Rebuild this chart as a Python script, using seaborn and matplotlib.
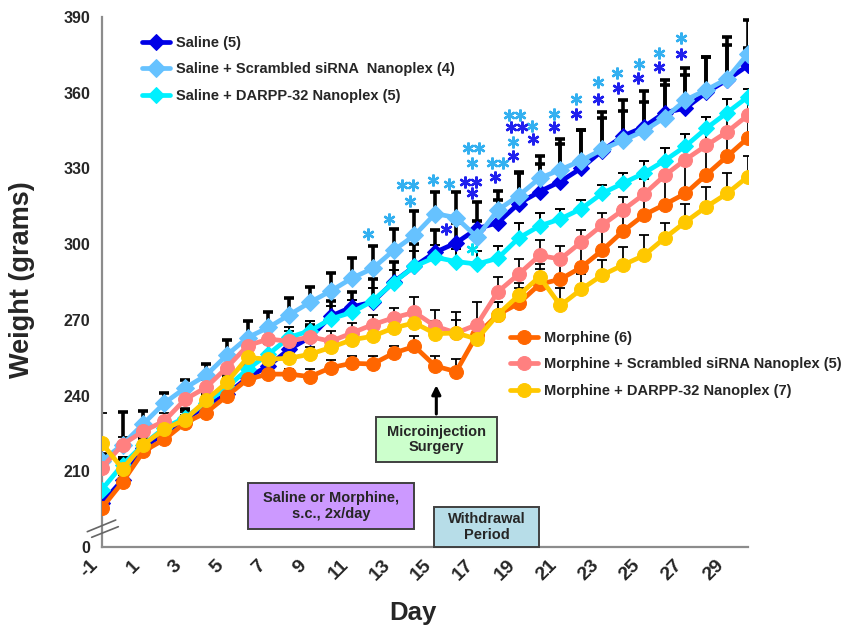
import matplotlib
matplotlib.use("Agg")
import matplotlib.pyplot as plt
from matplotlib.patches import Rectangle
import seaborn as sns

# day -1 .. 30, mean body weight (g) per group
days = list(range(-1, 31))

saline = [197.3, 206.6, 219.3, 225.2, 230.5, 235.9, 240.5, 247.1, 251.8, 258.4, 263.1, 271.5,
          275.1, 277.1, 285.0, 291.2, 296.8, 300.5, 306.1, 308.5, 316.1, 320.8, 324.8, 330.1,
          337.0, 342.8, 346.4, 352.1, 353.9, 360.1, 365.1, 370.8]
saline_scr = [214.0, 220.6, 228.8, 237.0, 243.0, 248.0, 256.0, 263.0, 267.0, 272.0, 277.0, 281.5,
              286.5, 290.4, 297.5, 303.5, 312.1, 310.5, 302.8, 313.5, 319.2, 326.1, 329.5, 333.1,
              337.5, 341.1, 344.8, 350.1, 357.1, 361.1, 365.5, 375.5]
saline_darpp = [202.7, 212.6, 220.6, 227.2, 231.2, 237.2, 243.2, 250.5, 256.4, 263.1, 265.7, 270.4,
                273.0, 277.5, 284.8, 291.2, 294.8, 293.1, 292.1, 294.4, 302.4, 307.2, 310.0, 314.0,
                320.1, 324.1, 328.1, 333.1, 338.8, 345.9, 352.1, 358.4]
morphine = [195.4, 205.7, 217.9, 222.6, 229.2, 233.2, 239.8, 246.5, 248.5, 248.5, 247.5, 251.1,
            252.8, 252.5, 256.8, 259.5, 251.7, 249.5, 264.1, 272.1, 276.5, 284.1, 286.1, 290.8,
            297.5, 305.1, 311.5, 315.7, 320.1, 327.5, 334.8, 342.1]
morphine_scr = [211.3, 220.6, 225.9, 229.9, 238.5, 243.2, 251.1, 259.8, 262.4, 261.5, 263.3, 261.5,
                264.8, 268.1, 270.8, 273.0, 267.5, 264.8, 268.1, 281.1, 288.1, 295.5, 294.1, 300.8,
                307.5, 313.5, 319.7, 327.2, 333.5, 339.1, 344.5, 351.1]
morphine_darpp = [221.2, 211.0, 220.6, 226.6, 230.5, 238.1, 245.2, 255.1, 254.4, 254.8, 256.4, 259.1,
                  262.1, 263.5, 266.8, 268.8, 264.5, 264.8, 262.4, 272.1, 279.7, 287.1, 275.7, 282.1,
                  287.7, 291.7, 295.5, 302.4, 308.8, 314.8, 320.1, 326.8]

# upper SEM only
saline_err = [7, 8, 4, 4, 4, 4, 5, 5, 5, 5, 5, 6, 6, 9, 8, 9, 9, 8, 3, 9, 12, 11,
              15, 15, 13, 10, 10, 11, 16, 14, 14, 7]
saline_scr_err = [3, 13, 5, 4, 3, 4.5, 6, 6.5, 6, 6.5, 6, 7, 8, 9, 8.5, 9.5, 8.5, 10, 14, 7.5,
                  9.5, 9, 12, 12, 15, 16, 16, 15, 10, 13, 16.5, 13.5]
saline_darpp_err = [2, 3, 3, 3, 3, 3, 4, 4, 4, 4, 4, 5, 5, 5, 5, 6, 5, 5, 5, 5, 6, 5,
                    4, 3.5, 3.5, 4, 5, 5, 5, 4.5, 5.5, 3]
morphine_err = [3, 3, 3, 3, 3, 3, 3, 3, 3, 2, 3, 3, 3, 3, 3, 4, 4, 5, 5, 5, 6, 6,
                7, 8, 8, 9, 10, 12, 12, 10, 9, 8]
morphine_scr_err = [4, 3, 3, 3, 3, 3, 4, 4, 4, 4, 4, 4, 4, 4, 4, 6, 6.5, 8.5, 9, 6, 6, 6,
                    5, 5, 5, 5, 6, 6, 6, 6, 7, 6]
morphine_darpp_err = [12, 4, 3, 3, 3, 3, 3, 3, 3, 3, 3, 3, 3, 3, 3, 5, 5, 5, 5, 5, 5, 5,
                      7, 6, 6, 7, 8, 6, 7, 8, 8, 8]

labels = ["Saline (5)", "Saline + Scrambled siRNA  Nanoplex (4)", "Saline + DARPP-32 Nanoplex (5)",
          "Morphine (6)", "Morphine + Scrambled siRNA Nanoplex (5)", "Morphine + DARPP-32 Nanoplex (7)"]
colors = ["#0000e6", "#66c2ff", "#00f0ff", "#ff6600", "#ff8080", "#ffc800"]

# significance asterisks (day, weight)
star_light_x = [11.79, 12.79, 13.39, 13.91, 13.79, 14.88, 15.66, 16.59, 17.11, 16.75, 17.71, 18.23,
                18.54, 19.06, 18.71, 19.66, 20.69, 21.75, 22.79, 23.73, 24.78, 25.74, 26.78]
star_light_y = [304.1, 310.1, 323.5, 323.5, 317.1, 325.5, 323.7, 338.1, 338.1, 332.1, 332.1, 332.1,
                351.1, 351.1, 340.4, 346.8, 351.7, 357.7, 364.1, 367.9, 371.5, 375.9, 381.7]
star_dark_x = [15.51, 16.42, 16.95, 16.75, 17.86, 18.63, 19.14, 18.71, 19.67, 20.69, 21.75,
               22.80, 23.78, 24.73, 25.74, 26.78]
star_dark_y = [305.9, 324.5, 324.5, 320.1, 326.8, 346.4, 346.4, 335.1, 341.8, 346.4, 351.7,
               357.4, 361.7, 365.7, 370.1, 375.5]
star_cyan_x = [16.77]
star_cyan_y = [298.1]

sns.set_theme(style="white")
plt.rcParams["font.family"] = ["Liberation Sans", "DejaVu Sans"]
plt.rcParams["font.weight"] = "bold"

fig = plt.figure(figsize=(8.48, 6.28), dpi=100)
ax = fig.add_axes([101.7 / 848, 1 - 547 / 628, 646.3 / 848, 530 / 628])

series = [saline, saline_scr, saline_darpp, morphine, morphine_scr, morphine_darpp]
errors = [saline_err, saline_scr_err, saline_darpp_err, morphine_err, morphine_scr_err, morphine_darpp_err]
markers = ["D", "D", "D", "o", "o", "o"]
msizes = [8, 9.5, 8, 10, 10, 10]
err_lw = [2.6, 2.6, 1.4, 1.3, 1.3, 1.3]

for vals, err, lw in zip(series, errors, err_lw):
    ax.errorbar(days, vals, yerr=[[0] * len(err), err], fmt="none", ecolor="black",
                elinewidth=lw, capsize=3.5, capthick=lw, zorder=2)

for i, (vals, col) in enumerate(zip(series, colors)):
    sns.lineplot(x=days, y=vals, ax=ax, color=col, marker=markers[i], markersize=msizes[i],
                 markeredgecolor=col, linewidth=3.4, label=labels[i], zorder=3 + i)

star = (6, 2, 0)
ax.plot(star_light_x, star_light_y, ls="none", marker=star, ms=8.5, mew=1.7, color="#33b0f0", zorder=9)
ax.plot(star_dark_x, star_dark_y, ls="none", marker=star, ms=8.5, mew=1.7, color="#2020ee", zorder=9)
ax.plot(star_cyan_x, star_cyan_y, ls="none", marker=star, ms=8.5, mew=1.7, color="#00e0f0", zorder=9)

# axis with a break: the bottom tick stands for 0
ax.set_xlim(-1, 30)
ax.set_ylim(180, 390)
ax.set_yticks(range(180, 391, 30))
ax.set_yticklabels(["0"] + [str(v) for v in range(210, 391, 30)])
ax.set_xticks(range(-1, 30, 2))
ax.set_xticks(range(-1, 31), minor=True)
ax.set_xticklabels([str(d) for d in range(-1, 30, 2)], rotation=45, ha="right")

for side in ["top", "right"]:
    ax.spines[side].set_visible(False)
for side in ["left", "bottom"]:
    ax.spines[side].set_color("#8c8c8c")
    ax.spines[side].set_linewidth(1.6)
ax.tick_params(axis="both", which="both", direction="out", length=5, width=1.3, color="#8c8c8c")
ax.tick_params(axis="y", labelsize=11.5, pad=3)
ax.tick_params(axis="x", labelsize=14, pad=2)

for xs, ys in [([-0.0223, 0.0217], [0.0289, 0.0509]), ([-0.0155, 0.0257], [0.0183, 0.0383])]:
    ax.plot(xs, ys, transform=ax.transAxes, color="#666666", lw=1.2, clip_on=False, zorder=10)

ax.set_xlabel("Day", fontsize=18.5, fontweight="bold")
ax.xaxis.set_label_coords(0.4817, -0.1245)
ax.xaxis.label.set_va("center")
ax.set_ylabel("Weight (grams)", fontsize=19.5, fontweight="bold")
ax.yaxis.set_label_coords(-0.1233, 0.5038)
ax.yaxis.label.set_va("center")

# protocol boxes
boxes = [
    (12.16, 213.6, 5.8, 18.0, "#ccffcc", "Microinjection\nSurgery"),
    (6.02, 187.2, 7.96, 18.0, "#cc99ff", "Saline or Morphine,\ns.c., 2x/day"),
    (14.94, 180.0, 5.03, 16.0, "#b7dde8", "Withdrawal\nPeriod"),
]
for x0, y0, w, h, fc, txt in boxes:
    ax.add_patch(Rectangle((x0, y0), w, h, facecolor=fc, edgecolor="#404040", lw=1.4,
                           zorder=6, clip_on=False))
    ax.text(x0 + w / 2, y0 + h / 2, txt, ha="center", va="center", fontsize=10.5,
            fontweight="bold", linespacing=1.15, zorder=7)
ax.annotate("", xy=(15.05, 245.2), xytext=(15.05, 231.6),
            arrowprops=dict(arrowstyle="-|>", color="black", lw=2.2, mutation_scale=13), zorder=7)

handles, labs = ax.get_legend_handles_labels()
leg_kw = dict(frameon=False, fontsize=10.5, handlelength=1.95, handletextpad=0.35,
              labelspacing=0.85, borderpad=0, borderaxespad=0, bbox_transform=fig.transFigure,
              loc="upper left")
leg1 = ax.legend(handles[:3], labs[:3], bbox_to_anchor=(142 / 848, 1 - 36 / 628), **leg_kw)
ax.add_artist(leg1)
ax.legend(handles[3:], labs[3:], bbox_to_anchor=(510 / 848, 1 - 331 / 628), **leg_kw)

fig.savefig("out.png", dpi=100)
